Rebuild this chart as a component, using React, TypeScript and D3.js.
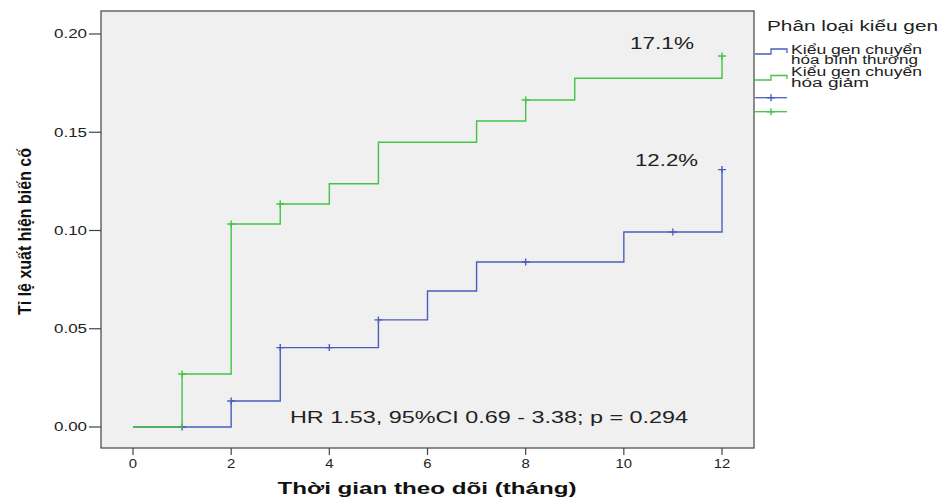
import React from 'react';
import * as d3 from 'd3';

// Cumulative incidence step data
const greenTimes = [0, 1, 2, 3, 4, 5, 7, 8, 9, 12];
const greenValues = [0, 0.027, 0.1033, 0.1135, 0.1238, 0.1449, 0.1557, 0.1664, 0.1775, 0.1888];
const greenCensored = [1, 2, 3, 8, 12];

const blueTimes = [0, 2, 3, 5, 6, 7, 10, 12];
const blueValues = [0, 0.0132, 0.0404, 0.0545, 0.0692, 0.084, 0.0992, 0.131];
const blueCensored = [1, 2, 3, 4, 5, 8, 11, 12];

const xTicks = [0, 2, 4, 6, 8, 10, 12];
const yTicks = [0, 0.05, 0.1, 0.15, 0.2];

const legendTitle = 'Phân loại kiểu gen';
const legendLabels = [
  ['Kiểu gen chuyển', 'hóa bình thường'],
  ['Kiểu gen chuyển', 'hóa giảm'],
];

const BLUE = '#4a5fbd';
const GREEN = '#45c345';
const TEXT = '#222';
const FONT = '"Liberation Sans", Arial, sans-serif';
const NARROW = '"Liberation Sans Narrow", "Liberation Sans", Arial, sans-serif';

const x = d3.scaleLinear().domain([0, 12]).range([133, 722]);
const y = d3.scaleLinear().domain([0, 0.2]).range([427, 34]);

const stepLine = d3
  .line<[number, number]>()
  .x(d => x(d[0]))
  .y(d => y(d[1]))
  .curve(d3.curveStepAfter);

const valueAt = (times: number[], values: number[], t: number) => {
  let v = values[0];
  times.forEach((tt, i) => {
    if (tt <= t) v = values[i];
  });
  return v;
};

const Cross = ({ cx, cy, color }: { cx: number; cy: number; color: string }) => (
  <path d={`M${cx - 4},${cy}H${cx + 4}M${cx},${cy - 3.5}V${cy + 3.5}`} stroke={color} strokeWidth={1.4} fill="none" />
);

const App: React.FC = () => {
  const series = [
    { times: blueTimes, values: blueValues, censored: blueCensored, color: BLUE },
    { times: greenTimes, values: greenValues, censored: greenCensored, color: GREEN },
  ];

  return (
    <svg width={941} height={498} style={{ position: 'absolute', left: 0, top: 0, background: '#fff' }}>
      <rect x={101} y={11} width={653} height={437} fill="#f0f0f0" stroke="#444" strokeWidth={1.2} />

      {/* y axis */}
      {yTicks.map(t => (
        <g key={t}>
          <line x1={89} x2={101} y1={y(t)} y2={y(t)} stroke="#444" strokeWidth={1.2} />
          <text x={87} y={y(t) + 4.3} textAnchor="end" fontFamily={FONT} fontSize={12} fill={TEXT}
            textLength={33} lengthAdjust="spacingAndGlyphs">
            {t.toFixed(2)}
          </text>
        </g>
      ))}

      {/* x axis */}
      {xTicks.map(t => (
        <g key={t}>
          <line x1={x(t)} x2={x(t)} y1={448} y2={455} stroke="#444" strokeWidth={1.2} />
          <text x={x(t)} y={467.5} textAnchor="middle" fontFamily={FONT} fontSize={12} fill={TEXT}
            textLength={t >= 10 ? 16.5 : 8.3} lengthAdjust="spacingAndGlyphs">
            {t}
          </text>
        </g>
      ))}

      {/* step curves */}
      {series.map((s, i) => (
        <g key={i}>
          <path
            d={stepLine(s.times.map((t, j) => [t, s.values[j]] as [number, number])) || ''}
            fill="none"
            stroke={s.color}
            strokeWidth={1.4}
          />
          {s.censored.map(c => (
            <Cross key={c} cx={x(c)} cy={y(valueAt(s.times, s.values, c))} color={s.color} />
          ))}
        </g>
      ))}

      {/* annotations */}
      <text x={630} y={48.5} fontFamily={FONT} fontSize={16} fill={TEXT} textLength={64} lengthAdjust="spacingAndGlyphs">17.1%</text>
      <text x={635} y={166} fontFamily={FONT} fontSize={16} fill={TEXT} textLength={63} lengthAdjust="spacingAndGlyphs">12.2%</text>
      <text x={290} y={422.7} fontFamily={FONT} fontSize={16.5} fill={TEXT} textLength={398} lengthAdjust="spacingAndGlyphs">
        HR 1.53, 95%CI 0.69 - 3.38; p = 0.294
      </text>

      {/* axis titles */}
      <text x={427} y={494} textAnchor="middle" fontFamily={FONT} fontSize={16} fontWeight="bold" fill="#111"
        textLength={299} lengthAdjust="spacingAndGlyphs">
        Thời gian theo dõi (tháng)
      </text>
      <text transform="translate(31,231.5) rotate(-90)" textAnchor="middle" fontFamily={NARROW} fontSize={17.5}
        fontWeight="bold" fill="#111" textLength={167} lengthAdjust="spacingAndGlyphs">
        Tỉ lệ xuất hiện biến cố
      </text>

      {/* legend */}
      <text x={767} y={30.7} fontFamily={FONT} fontSize={14} fill={TEXT} textLength={171} lengthAdjust="spacingAndGlyphs">
        {legendTitle}
      </text>
      <path d="M755,54H771V49H787V53" fill="none" stroke={BLUE} strokeWidth={1.3} />
      <path d="M755,80H771V75.5H787V79" fill="none" stroke={GREEN} strokeWidth={1.3} />
      <text fontFamily={FONT} fontSize={12.5} fill={TEXT}>
        <tspan x={791} y={54} textLength={131} lengthAdjust="spacingAndGlyphs">{legendLabels[0][0]}</tspan>
        <tspan x={791} y={64} textLength={127} lengthAdjust="spacingAndGlyphs">{legendLabels[0][1]}</tspan>
        <tspan x={791} y={76} textLength={131} lengthAdjust="spacingAndGlyphs">{legendLabels[1][0]}</tspan>
        <tspan x={791} y={87} textLength={78} lengthAdjust="spacingAndGlyphs">{legendLabels[1][1]}</tspan>
      </text>
      <path d="M755,97.7H787" stroke={BLUE} strokeWidth={1.3} />
      <Cross cx={771} cy={97.7} color={BLUE} />
      <path d="M755,111.7H787" stroke={GREEN} strokeWidth={1.3} />
      <Cross cx={771} cy={111.7} color={GREEN} />
    </svg>
  );
};

export default App;
